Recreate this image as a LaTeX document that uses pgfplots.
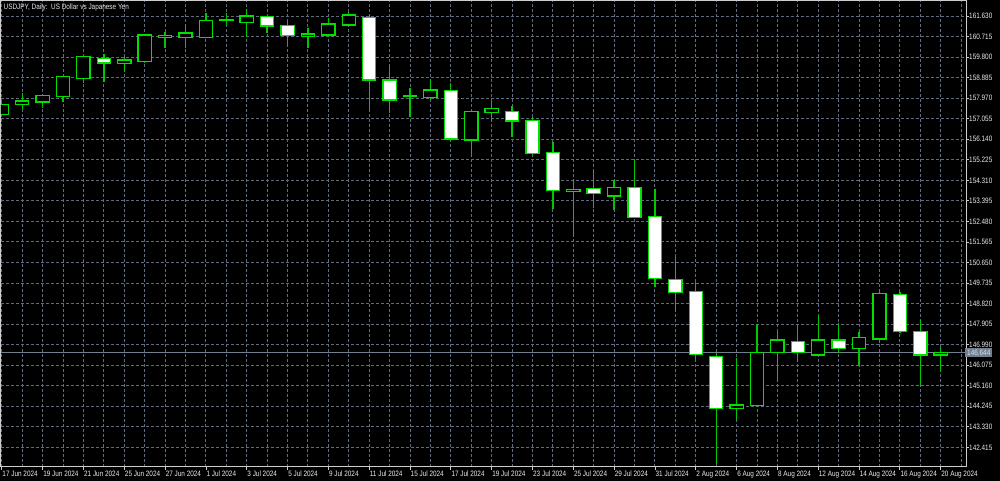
\documentclass[border=0pt]{standalone}
\usepackage{fontspec}
\setmainfont{Liberation Sans}[FakeStretch=0.82]
\usepackage{pgfplots}
\usepackage{pgfplotstable}
\pgfplotsset{compat=1.18}
\definecolor{gridc}{RGB}{96,108,124}
\definecolor{bodyg}{RGB}{0,225,0}
\definecolor{wickg}{RGB}{0,200,0}
\definecolor{slate}{RGB}{112,128,144}
\definecolor{lab}{RGB}{235,235,235}
\definecolor{frame}{RGB}{205,205,205}

\pgfplotstableread{
i O H L C
0 157.25 157.85 157.20 157.70
1 157.70 158.21 157.44 157.84
2 157.80 158.10 157.55 158.08
3 158.03 158.95 157.79 158.93
4 158.85 159.85 158.63 159.82
5 159.75 159.94 158.68 159.54
6 159.52 159.82 159.15 159.67
7 159.59 160.82 159.55 160.78
8 160.69 160.90 160.19 160.75
9 160.66 161.27 160.19 160.87
10 160.66 161.75 160.64 161.42
11 161.44 161.75 161.20 161.46
12 161.33 161.94 160.71 161.63
13 161.60 161.62 160.86 161.18
14 161.20 161.41 160.31 160.77
15 160.73 161.08 160.19 160.83
16 160.78 161.53 160.71 161.27
17 161.23 161.79 161.20 161.67
18 161.57 161.72 157.41 158.78
19 158.78 159.45 157.30 157.89
20 158.05 158.41 157.14 158.09
21 157.99 158.82 157.95 158.33
22 158.30 158.63 156.03 156.15
23 156.11 157.40 155.36 157.37
24 157.32 157.84 156.92 157.52
25 157.37 157.62 156.25 156.95
26 156.97 157.14 155.45 155.51
27 155.56 156.03 153.02 153.85
28 153.80 154.32 151.84 153.91
29 153.95 154.77 153.06 153.73
30 153.61 154.32 152.99 154.00
31 154.00 155.22 152.62 152.66
32 152.69 153.91 149.57 149.94
33 149.90 150.91 148.46 149.32
34 149.35 149.77 146.35 146.56
35 146.45 146.60 141.68 144.15
36 144.15 146.38 143.63 144.30
37 144.27 147.90 144.20 146.65
38 146.65 147.57 145.34 147.20
39 147.12 147.83 146.23 146.65
40 146.53 148.26 146.50 147.20
41 147.20 147.94 146.60 146.83
42 146.83 147.57 146.04 147.32
43 147.24 149.45 147.05 149.28
44 149.23 149.32 147.52 147.57
45 147.57 148.09 145.15 146.53
46 146.53 146.87 145.83 146.644
}\candles

\begin{document}
\begin{tikzpicture}
\useasboundingbox (0,0) rectangle (1000pt,481pt);
\fill[black] (0,0) rectangle (1000pt,481pt);
\begin{axis}[
  at={(1pt,14pt)}, anchor=south west,
  scale only axis, width=965pt, height=466pt,
  xmin=-0.039, xmax=47.24,
  ymin=141.54, ymax=162.30,
  font=\fontsize{7.8}{8}\selectfont,
  axis line style={draw=frame, line width=1pt},
  x axis line style={line width=1.6pt},
  tick style={draw=frame, line width=0.8pt},
  tick align=outside,
  major tick length=3pt, minor tick length=0pt,
  xtick pos=bottom, ytick pos=right,
  yticklabel pos=right,
  xtick={0,2,...,46},
  minor xtick={1,3,...,47},
  xticklabels={17 Jun 2024, 19 Jun 2024, 21 Jun 2024, 25 Jun 2024, 27 Jun 2024, 1 Jul 2024, 3 Jul 2024, 5 Jul 2024, 9 Jul 2024, 11 Jul 2024, 15 Jul 2024, 17 Jul 2024, 19 Jul 2024, 23 Jul 2024, 25 Jul 2024, 29 Jul 2024, 31 Jul 2024, 2 Aug 2024, 6 Aug 2024, 8 Aug 2024, 12 Aug 2024, 14 Aug 2024, 16 Aug 2024, 20 Aug 2024},
  xticklabel style={anchor=north west, inner sep=0pt, xshift=0.5pt, yshift=-1pt, text=lab},
  ytick={142.415,143.330,144.245,145.160,146.075,146.990,147.905,148.820,149.735,150.650,151.565,152.480,153.395,154.310,155.225,156.140,157.055,157.970,158.885,159.800,160.715,161.630},
  yticklabels={142.415,143.330,144.245,145.160,146.075,146.990,147.905,148.820,149.735,150.650,151.565,152.480,153.395,154.310,155.225,156.140,157.055,157.970,158.885,159.800,160.715,161.630},
  yticklabel style={anchor=west, inner sep=0pt, text=lab},
  xmajorgrids, xminorgrids, ymajorgrids,
  major grid style={draw=gridc, line width=1pt, dash pattern=on 3pt off 2pt},
  minor grid style={draw=gridc, line width=1pt, dash pattern=on 3pt off 2pt},
  extra y ticks={146.644},
  extra y tick labels={146.644},
  extra y tick style={ymajorgrids=true, major tick length=0pt,
     major grid style={draw=slate, line width=1pt, solid},
     yticklabel style={fill=slate, text=white!75!slate, inner xsep=2pt, inner ysep=1.5pt, xshift=-1pt}},
]
% wicks
\addplot[draw=none, mark=none, forget plot,
  error bars/.cd, y dir=plus, y explicit, error mark=none,
  error bar style={draw=wickg, line width=1.3pt, solid}]
  table[x=i, y=L, y error expr={\thisrow{H}-\thisrow{L}}] {\candles};
% body outlines
\addplot[draw=none, mark=none, forget plot,
  error bars/.cd, y dir=plus, y explicit, error mark=none,
  error bar style={draw=bodyg, line width=14.5pt, solid, line cap=butt}]
  table[x=i, y expr={min(\thisrow{O},\thisrow{C})-0.029}, y error expr={abs(\thisrow{C}-\thisrow{O})+0.058}] {\candles};
% bull fill (black)
\addplot[draw=none, mark=none, forget plot,
  error bars/.cd, y dir=plus, y explicit, error mark=none,
  error bar style={draw=black, line width=11.9pt, solid, line cap=butt}]
  table[x=i, y expr={\thisrow{O}+0.029}, y error expr={(\thisrow{C}>\thisrow{O}+0.058) ? (\thisrow{C}-\thisrow{O}-0.058) : 0}] {\candles};
% bear fill (white)
\addplot[draw=none, mark=none, forget plot,
  error bars/.cd, y dir=plus, y explicit, error mark=none,
  error bar style={draw=white, line width=11.9pt, solid, line cap=butt}]
  table[x=i, y expr={\thisrow{C}+0.029}, y error expr={(\thisrow{O}>\thisrow{C}+0.058) ? (\thisrow{O}-\thisrow{C}-0.058) : 0}] {\candles};
\node[anchor=north west, inner sep=0pt, text=lab, font=\fontsize{7.8}{8}\selectfont] at (rel axis cs:0,1) [xshift=2.5pt, yshift=-3pt] {USDJPY, Daily:\ \ US Dollar vs Japanese Yen};
\end{axis}
\end{tikzpicture}
\end{document}
